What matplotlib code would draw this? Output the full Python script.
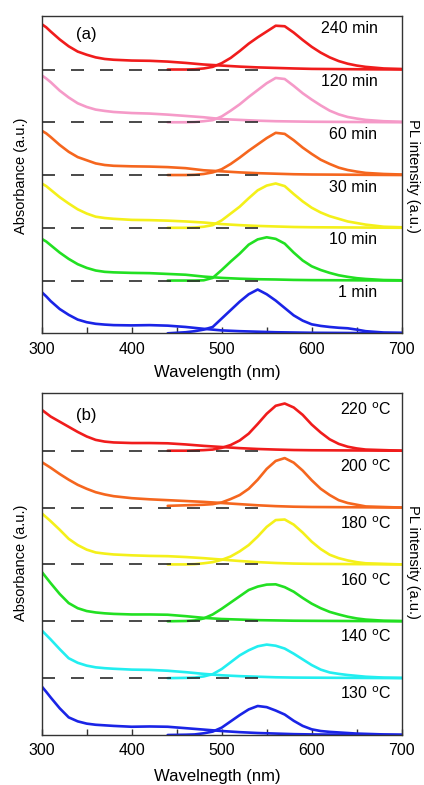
import matplotlib
matplotlib.use("Agg")
import matplotlib.pyplot as plt
from matplotlib.ticker import MultipleLocator

plt.rcParams['font.family'] = ['Liberation Sans', 'DejaVu Sans']

# wavelength grids (nm)
abs_wl = [300, 305, 310, 320, 330, 340, 350, 360, 370, 380, 400, 420, 440, 460, 480,
          500, 520, 540, 560, 580, 600, 650, 700]
pl_wl = [440, 460, 470, 480, 490, 500, 510, 520, 530, 540, 550, 560, 570, 580, 590,
         600, 610, 620, 630, 640, 650, 660, 680, 700]

# panel (a): growth time, bottom trace first
labels_a = ["1 min", "10 min", "30 min", "60 min", "120 min", "240 min"]
colors_a = ["#1a24e6", "#22e022", "#f4f01a", "#f5661e", "#f59ac8", "#f01c1c"]
abs_a = [
    [0.78, 0.70, 0.61, 0.46, 0.35, 0.26, 0.21, 0.18, 0.165, 0.155, 0.15, 0.155, 0.145, 0.12, 0.085,
     0.055, 0.04, 0.03, 0.02, 0.015, 0.01, 0.005, 0.0],
    [0.79, 0.74, 0.67, 0.53, 0.41, 0.31, 0.24, 0.19, 0.165, 0.155, 0.145, 0.14, 0.125, 0.11, 0.075,
     0.05, 0.035, 0.025, 0.02, 0.012, 0.008, 0.004, 0.0],
    [0.84, 0.79, 0.72, 0.58, 0.46, 0.35, 0.27, 0.21, 0.185, 0.17, 0.15, 0.145, 0.135, 0.12, 0.10,
     0.07, 0.05, 0.035, 0.025, 0.015, 0.01, 0.005, 0.0],
    [0.84, 0.79, 0.72, 0.57, 0.44, 0.34, 0.28, 0.22, 0.19, 0.175, 0.165, 0.16, 0.15, 0.13, 0.09,
     0.07, 0.05, 0.035, 0.025, 0.015, 0.01, 0.005, 0.0],
    [0.89, 0.83, 0.76, 0.60, 0.47, 0.36, 0.29, 0.24, 0.215, 0.195, 0.175, 0.165, 0.145, 0.12, 0.095,
     0.06, 0.045, 0.03, 0.02, 0.015, 0.01, 0.005, 0.0],
    [0.86, 0.80, 0.72, 0.57, 0.44, 0.34, 0.28, 0.23, 0.20, 0.185, 0.17, 0.165, 0.15, 0.125, 0.095,
     0.075, 0.055, 0.04, 0.03, 0.02, 0.012, 0.005, 0.0],
]
pl_a = [
    [0.0, 0.02, 0.04, 0.07, 0.12, 0.28, 0.44, 0.60, 0.74, 0.83, 0.74, 0.62, 0.48, 0.34, 0.24,
     0.17, 0.14, 0.12, 0.105, 0.095, 0.07, 0.04, 0.015, 0.01],
    [0.0, 0.0, 0.0, 0.005, 0.05, 0.20, 0.36, 0.51, 0.68, 0.78, 0.82, 0.79, 0.70, 0.53, 0.38,
     0.27, 0.20, 0.145, 0.10, 0.07, 0.045, 0.03, 0.01, 0.005],
    [0.0, 0.0, 0.005, 0.02, 0.05, 0.14, 0.27, 0.40, 0.56, 0.71, 0.80, 0.84, 0.79, 0.64, 0.50,
     0.38, 0.29, 0.22, 0.17, 0.12, 0.09, 0.06, 0.02, 0.01],
    [0.0, 0.0, 0.005, 0.02, 0.05, 0.11, 0.21, 0.33, 0.46, 0.58, 0.70, 0.80, 0.78, 0.66, 0.52,
     0.40, 0.29, 0.21, 0.14, 0.095, 0.065, 0.04, 0.02, 0.01],
    [0.0, 0.0, 0.005, 0.02, 0.04, 0.11, 0.22, 0.34, 0.48, 0.61, 0.74, 0.84, 0.82, 0.69, 0.55,
     0.43, 0.32, 0.22, 0.15, 0.10, 0.07, 0.045, 0.02, 0.01],
    [0.0, 0.0, 0.005, 0.02, 0.05, 0.12, 0.22, 0.35, 0.49, 0.61, 0.72, 0.83, 0.82, 0.70, 0.56,
     0.43, 0.32, 0.23, 0.16, 0.11, 0.075, 0.05, 0.02, 0.01],
]

# panel (b): growth temperature, bottom trace first
labels_b = ["130 $^{\\rm o}$C", "140 $^{\\rm o}$C", "160 $^{\\rm o}$C",
            "180 $^{\\rm o}$C", "200 $^{\\rm o}$C", "220 $^{\\rm o}$C"]
colors_b = ["#1a24e6", "#22eef0", "#22e022", "#f4f01a", "#f5661e", "#f01c1c"]
abs_b = [
    [0.855, 0.76, 0.66, 0.47, 0.31, 0.24, 0.20, 0.18, 0.17, 0.16, 0.145, 0.15, 0.145, 0.12, 0.095,
     0.07, 0.05, 0.035, 0.025, 0.015, 0.01, 0.005, 0.0],
    [0.84, 0.76, 0.68, 0.51, 0.35, 0.27, 0.22, 0.19, 0.175, 0.165, 0.15, 0.145, 0.13, 0.105, 0.075,
     0.05, 0.035, 0.025, 0.015, 0.01, 0.008, 0.004, 0.0],
    [0.87, 0.77, 0.67, 0.48, 0.32, 0.23, 0.18, 0.155, 0.14, 0.13, 0.12, 0.12, 0.115, 0.09, 0.06,
     0.04, 0.03, 0.02, 0.015, 0.01, 0.008, 0.004, 0.0],
    [0.90, 0.83, 0.76, 0.61, 0.45, 0.34, 0.26, 0.21, 0.19, 0.175, 0.16, 0.15, 0.145, 0.13, 0.11,
     0.085, 0.06, 0.04, 0.025, 0.015, 0.01, 0.005, 0.0],
    [0.80, 0.75, 0.70, 0.59, 0.49, 0.40, 0.33, 0.27, 0.23, 0.20, 0.165, 0.145, 0.13, 0.115, 0.10,
     0.08, 0.06, 0.04, 0.025, 0.015, 0.01, 0.005, 0.0],
    [0.72, 0.66, 0.60, 0.51, 0.42, 0.33, 0.25, 0.19, 0.16, 0.145, 0.135, 0.135, 0.13, 0.11, 0.085,
     0.065, 0.045, 0.03, 0.02, 0.012, 0.008, 0.004, 0.0],
]
pl_b = [
    [0.0, 0.005, 0.01, 0.03, 0.06, 0.13, 0.24, 0.35, 0.45, 0.51, 0.49, 0.43, 0.36, 0.25, 0.16,
     0.10, 0.07, 0.055, 0.045, 0.035, 0.025, 0.02, 0.01, 0.005],
    [0.0, 0.005, 0.01, 0.03, 0.07, 0.16, 0.28, 0.40, 0.49, 0.56, 0.59, 0.57, 0.52, 0.43, 0.33,
     0.23, 0.15, 0.10, 0.075, 0.055, 0.04, 0.025, 0.01, 0.005],
    [0.0, 0.005, 0.015, 0.05, 0.12, 0.22, 0.33, 0.44, 0.55, 0.61, 0.645, 0.65, 0.60, 0.52, 0.41,
     0.31, 0.23, 0.165, 0.12, 0.08, 0.05, 0.03, 0.01, 0.005],
    [0.0, 0.0, 0.005, 0.02, 0.04, 0.08, 0.14, 0.23, 0.34, 0.49, 0.66, 0.78, 0.79, 0.70, 0.56,
     0.40, 0.27, 0.17, 0.11, 0.07, 0.04, 0.02, 0.01, 0.0],
    [0.03, 0.04, 0.045, 0.05, 0.06, 0.09, 0.15, 0.22, 0.33, 0.49, 0.68, 0.82, 0.87, 0.79, 0.65,
     0.48, 0.33, 0.22, 0.13, 0.08, 0.05, 0.02, 0.01, 0.0],
    [0.0, 0.0, 0.005, 0.01, 0.02, 0.05, 0.10, 0.18, 0.30, 0.47, 0.65, 0.79, 0.83, 0.76, 0.63,
     0.46, 0.32, 0.20, 0.12, 0.07, 0.04, 0.02, 0.01, 0.0],
]

W, H = 424, 785
fig = plt.figure(figsize=(W / 100, H / 100), dpi=100)


def px_box(left, top, right, bottom):
    return [left / W, 1 - bottom / H, (right - left) / W, (bottom - top) / H]


def draw_panel(ax, abs_set, pl_set, colors, labels, tag, label_x, label_dy, tag_dy):
    n = len(abs_set)
    for i in range(n):
        ax.plot(abs_wl, [v + i for v in abs_set[i]], color=colors[i], lw=1.9,
                solid_capstyle='round', solid_joinstyle='round', zorder=2)
        ax.plot(pl_wl, [v + i for v in pl_set[i]], color=colors[i], lw=1.9,
                solid_capstyle='round', solid_joinstyle='round', zorder=2)
        if i > 0:
            ax.plot([300, 551], [i, i], color="#2a2a2a", lw=1.2,
                    linestyle=(0, (7.8, 9.6)), zorder=3)
        ax.text(label_x, i + label_dy, labels[i], ha='right', va='center', fontsize=11.5)
    ax.text(338, n - tag_dy, tag, ha='left', va='center', fontsize=12)
    ax.set_xlim(300, 700)
    ax.set_ylim(0, n + 0.02)
    ax.xaxis.set_major_locator(MultipleLocator(100))
    ax.xaxis.set_minor_locator(MultipleLocator(50))
    ax.tick_params(axis='x', which='both', direction='in', length=4, width=1,
                   labelsize=11.5, pad=6, top=False, color="#333333")
    ax.tick_params(axis='y', left=False, labelleft=False)
    for s in ax.spines.values():
        s.set_linewidth(1.0)
        s.set_color("#333333")


ax_a = fig.add_axes(px_box(41.7, 15.7, 401.7, 333.3))
draw_panel(ax_a, abs_a, pl_a, colors_a, labels_a, "(a)", 673, 0.77, 0.33)

ax_b = fig.add_axes(px_box(41.7, 392.7, 401.7, 735.0))
draw_panel(ax_b, abs_b, pl_b, colors_b, labels_b, "(b)", 689, 0.72, 0.38)

fig.text(217 / W, 1 - 372 / H, "Wavelength (nm)", ha='center', va='center', fontsize=12)
fig.text(217 / W, 1 - 777 / H, "Wavelnegth (nm)", ha='center', va='center', fontsize=12)

fig.text(21 / W, 1 - 176 / H, "Absorbance (a.u.)", rotation=90, ha='center', va='center', fontsize=10.5)
fig.text(21 / W, 1 - 563 / H, "Absorbance (a.u.)", rotation=90, ha='center', va='center', fontsize=10.5)
fig.text(413 / W, 1 - 176 / H, "PL intensity (a.u.)", rotation=-90, ha='center', va='center', fontsize=10.5)
fig.text(413 / W, 1 - 562 / H, "PL intensity (a.u.)", rotation=-90, ha='center', va='center', fontsize=10.5)

fig.savefig("out.png", dpi=100)
